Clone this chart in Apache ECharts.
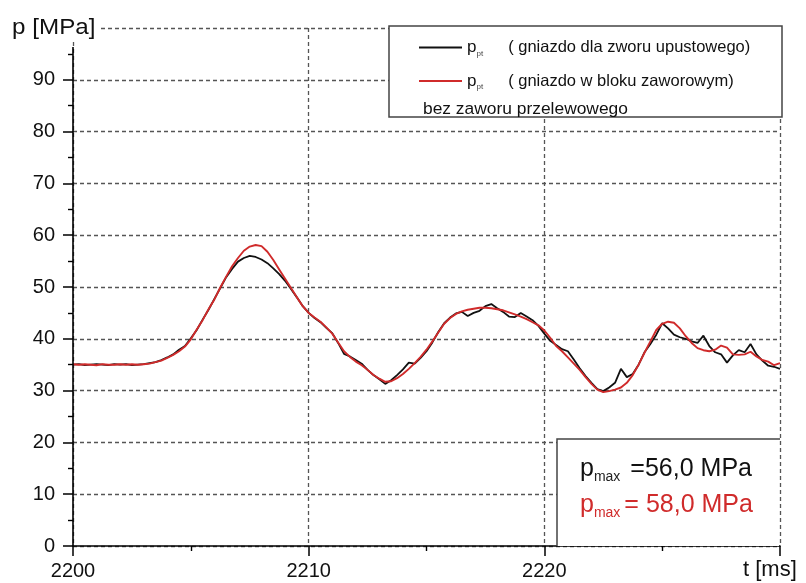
<!DOCTYPE html>
<html><head><meta charset="utf-8">
<script src="https://cdn.jsdelivr.net/npm/echarts@6/dist/echarts.min.js"></script>
<style>html,body{margin:0;padding:0;background:#fff}#c{width:806px;height:583px}</style>
</head><body><div id="c"></div>
<script>
const times = [
2200,2200.25,2200.5,2200.75,2201,2201.25,2201.5,2201.75,2202,2202.25,2202.5,2202.75,2203,2203.25,
2203.5,2203.75,2204,2204.25,2204.5,2204.75,2205,2205.25,2205.5,2205.75,2206,2206.25,2206.5,2206.75,
2207,2207.25,2207.5,2207.75,2208,2208.25,2208.5,2208.75,2209,2209.25,2209.5,2209.75,2210,2210.25,2210.5,
2210.75,2211,2211.25,2211.5,2211.75,2212,2212.25,2212.5,2212.75,2213,2213.25,2213.5,
2213.75,2214,2214.25,2214.5,2214.75,2215,2215.25,2215.5,
2215.75,2216,2216.25,2216.5,
2216.75,2217,2217.25,2217.5,2217.75,2218,2218.25,2218.5,2218.75,2219,2219.25,2219.5,2219.75,2220,2220.25,
2220.5,2220.75,2221,2221.25,2221.5,2221.75,2222,2222.25,2222.5,2222.75,2223,2223.25,2223.5,2223.75,2224,2224.25,2224.5,2224.75,
2225,
2225.25,2225.5,2225.75,2226,2226.25,2226.5,2226.75,2227,2227.25,2227.5,2227.75,2228,2228.25,2228.5,2228.75,2229,2229.25,2229.5,2229.75,2230
];
const pBlack = [
35.0,35.1,34.9,35.0,35.1,35.0,34.9,35.1,35.0,35.1,34.9,35.0,35.1,35.3,
35.5,35.9,36.4,37.0,37.9,38.6,40.1,41.7,43.7,45.6,47.7,49.8,51.9,53.5,
54.9,55.6,56.0,55.8,55.3,54.6,53.6,52.5,51.2,49.6,48.0,46.3,45.0,44.0,43.2,
42.1,41.1,39.2,37.1,36.6,35.9,35.2,34.0,33.0,32.2,31.3,32.0,
33.0,34.1,35.4,35.2,36.3,37.6,39.3,41.3,
43.0,44.1,44.9,45.2,
44.4,45.0,45.4,46.3,46.7,45.9,45.2,44.3,44.2,45.0,44.3,43.6,42.5,41.0,39.6,
38.8,38.0,37.6,36.0,34.3,32.8,31.5,30.3,29.9,30.6,31.5,34.2,32.6,33.2,35.0,37.4,39.0,40.8,
43.0,
42.0,40.8,40.3,40.0,39.5,39.2,40.6,38.6,37.4,37.0,35.4,36.8,37.8,37.4,39.0,37.0,35.8,34.8,34.6,34.2
];
const pRed = [
35.1,35.0,35.1,35.0,34.9,35.1,35.0,35.0,35.1,35.0,35.1,35.0,35.1,35.2,
35.5,35.8,36.3,36.9,37.6,38.5,39.9,41.8,43.6,45.7,47.6,49.9,52.0,54.0,
55.6,57.0,57.8,58.1,57.9,56.8,55.2,53.4,51.6,49.8,48.0,46.3,45.0,44.1,43.3,
42.2,41.0,39.3,37.6,36.5,35.6,34.9,34.0,33.0,32.3,31.7,31.8,
32.4,33.2,34.2,35.3,36.5,37.9,39.5,41.2,
42.9,44.0,44.8,45.3,
45.6,45.8,46.0,46.0,45.9,45.7,45.5,45.1,44.7,44.3,43.8,43.2,42.6,41.6,40.2,
38.6,37.6,36.4,35.2,34.0,32.6,31.3,30.2,29.7,29.9,30.2,30.6,31.5,33.0,35.0,37.3,39.5,41.7,
42.9,
43.3,43.1,42.0,40.5,39.2,38.2,37.8,37.6,37.9,38.7,38.3,37.0,36.9,37.0,37.5,36.6,35.9,35.6,34.9,35.3
];
const seriesNames = ['( gniazdo dla zworu upustowego)', '( gniazdo w bloku zaworowym)'];
const legendNote = 'bez zaworu przelewowego';
const xMin = 2200, xMax = 2230, xStep = 10;
const yMin = 0, yMax = 100, yStep = 10;
const yTitle = 'p [MPa]';
const xTitle = 't [ms]';
const maxBlack = '=56,0 MPa';
const maxRed = '= 58,0 MPa';

const FONT = '"Liberation Sans", Arial, sans-serif';
const RED = '#d02b2b';
const TXT = '#111';
const GRIDC = '#555';

const chart = echarts.init(document.getElementById('c'), null, {renderer: 'canvas'});
const gridDash = {color: GRIDC, width: 1.3, type: [4, 3]};

chart.setOption({
  animation: false,
  backgroundColor: '#fff',
  textStyle: {fontFamily: FONT},
  grid: {left: 73, right: 26, top: 28, bottom: 37, containLabel: false},
  xAxis: {
    type: 'value', min: xMin, max: xMax, interval: xStep,
    axisLine: {show: true, lineStyle: {color: '#000', width: 1.6}},
    axisTick: {show: true, length: 10, lineStyle: {color: '#000', width: 1.5}},
    minorTick: {show: true, splitNumber: 2, length: 5, lineStyle: {color: '#000', width: 1.4}},
    splitLine: {show: true, lineStyle: gridDash},
    axisLabel: {fontSize: 20, color: TXT, margin: 15, fontFamily: FONT,
      formatter: v => v === xMax ? '' : String(v)}
  },
  yAxis: {
    type: 'value', min: yMin, max: yMax, interval: yStep,
    axisLine: {show: false},
    axisTick: {show: true, length: 10, lineStyle: {color: '#000', width: 1.5}},
    minorTick: {show: true, splitNumber: 2, length: 5, lineStyle: {color: '#000', width: 1.4}},
    splitLine: {show: true, lineStyle: gridDash},
    axisLabel: {fontSize: 20, color: TXT, margin: 18, fontFamily: FONT,
      formatter: v => v === yMax ? '' : String(v)}
  },
  legend: {
    show: true, orient: 'vertical', left: 419, top: 39, z: 20, padding: 0,
    icon: 'rect', itemWidth: 43, itemHeight: 2, itemGap: 15, selectedMode: false,
    data: seriesNames,
    textStyle: {fontSize: 16.5, color: TXT, fontFamily: FONT,
      rich: {
        p: {fontSize: 17, color: TXT, fontFamily: FONT, lineHeight: 20},
        s: {fontSize: 8, color: '#444', fontFamily: FONT, verticalAlign: 'bottom', lineHeight: 20},
        t: {fontSize: 16.5, color: TXT, fontFamily: FONT, padding: [0, 0, 0, 25], lineHeight: 20}
      }},
    formatter: name => '{p|p}{s|pt}{t|' + name + '}'
  },
  graphic: [
    {type: 'line', z: 5, shape: {x1: 73, y1: 47, x2: 73, y2: 546},
     style: {stroke: '#000', lineWidth: 1.6}},
    {type: 'rect', z: 10, shape: {x: 389, y: 26, width: 393, height: 91},
     style: {fill: '#fff', stroke: '#444', lineWidth: 1.5}},
    {type: 'text', z: 15, x: 423, y: 109,
     style: {text: legendNote, fontSize: 17.4, fill: TXT, fontFamily: FONT, verticalAlign: 'middle'}},
    {type: 'text', z: 15, x: 11, y: 28, scaleX: 1.1,
     style: {text: yTitle, fontSize: 22, fill: TXT, fontFamily: FONT, verticalAlign: 'middle',
       backgroundColor: '#fff', padding: [2, 3, 2, 1]}},
    {type: 'text', z: 15, x: 743, y: 570,
     style: {text: xTitle, fontSize: 22, fill: TXT, fontFamily: FONT, verticalAlign: 'middle'}},
    {type: 'rect', z: 10, shape: {x: 557, y: 439, width: 222, height: 107},
     style: {fill: '#fff', stroke: null}},
    {type: 'polyline', z: 11, shape: {points: [[557, 546], [557, 439], [780, 439]]},
     style: {stroke: '#444', lineWidth: 1.5, fill: null}},
    {type: 'text', z: 15, x: 580, y: 469,
     style: {text: '{p|p}{s|max}{v|' + maxBlack + '}', fill: TXT, fontFamily: FONT, verticalAlign: 'middle',
       rich: {
         p: {fontSize: 25, fill: TXT, fontFamily: FONT, lineHeight: 30},
         s: {fontSize: 14, fill: '#222', fontFamily: FONT, verticalAlign: 'bottom', lineHeight: 30},
         v: {fontSize: 25, fill: TXT, fontFamily: FONT, lineHeight: 30, padding: [0, 0, 0, 10]}
       }}},
    {type: 'text', z: 15, x: 580, y: 505,
     style: {text: '{p|p}{s|max}{v|' + maxRed + '}', fill: RED, fontFamily: FONT, verticalAlign: 'middle',
       rich: {
         p: {fontSize: 25, fill: RED, fontFamily: FONT, lineHeight: 30},
         s: {fontSize: 14, fill: RED, fontFamily: FONT, verticalAlign: 'bottom', lineHeight: 30},
         v: {fontSize: 25, fill: RED, fontFamily: FONT, lineHeight: 30, padding: [0, 0, 0, 4]}
       }}}
  ],
  series: [
    {name: seriesNames[0], type: 'line', symbol: 'none', showSymbol: false, z: 3,
     lineStyle: {color: '#111', width: 1.8}, itemStyle: {color: '#111'},
     data: times.map((t, i) => [t, pBlack[i]])},
    {name: seriesNames[1], type: 'line', symbol: 'none', showSymbol: false, z: 4,
     lineStyle: {color: RED, width: 1.9}, itemStyle: {color: RED},
     data: times.map((t, i) => [t, pRed[i]])}
  ]
});
</script></body></html>
